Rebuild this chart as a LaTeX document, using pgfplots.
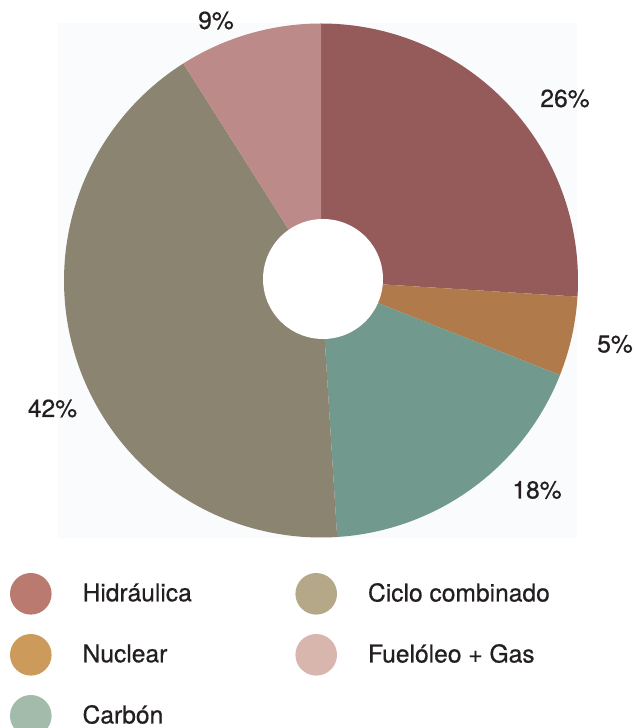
\documentclass[border=0pt]{standalone}
\usepackage{pgfplots}
\pgfplotsset{compat=1.18}
\usepackage{fontspec}
\setmainfont{TeX Gyre Heros}[FakeBold=0.6]
\definecolor{hpie}{HTML}{955B5A}
\definecolor{npie}{HTML}{B07A4B}
\definecolor{cpie}{HTML}{72998D}
\definecolor{gpie}{HTML}{8B8471}
\definecolor{fpie}{HTML}{BC8A88}
\definecolor{hleg}{HTML}{BA7A6F}
\definecolor{nleg}{HTML}{CC9B5B}
\definecolor{cleg}{HTML}{A3BBAB}
\definecolor{gleg}{HTML}{B5A888}
\definecolor{fleg}{HTML}{D8B5AD}
\definecolor{bgc}{HTML}{FAFBFD}
\definecolor{txt}{HTML}{231F20}
\newcommand{\lfont}{\fontsize{12.3}{14}\selectfont}
\begin{document}
\begin{tikzpicture}
\begin{axis}[
  scale only axis, width=317pt, height=364pt,
  xmin=0, xmax=634, ymin=0, ymax=728,
  hide axis, clip=false,
  legend columns=2, legend cell align=left,
  legend image code/.code={\fill[#1] (0pt,0pt) circle (10.4pt);},
  legend style={at={(axis cs:10,155)}, anchor=north west, draw=none, fill=none,
    inner sep=0pt, outer sep=0pt, row sep=9.7pt,
    font=\lfont, text=txt,
    nodes={inner sep=0pt},
    /tikz/every odd column/.append style={column sep=15.5pt},
    /tikz/every even column/.append style={column sep=51.8pt}},
]
% faint background panel
\addplot[fill=bgc, draw=none, forget plot] coordinates {(58,190) (577,190) (577,705) (58,705)} -- cycle;
% pie slices: Hidráulica 26, Nuclear 5, Carbón 18, Ciclo combinado 42, Fuelóleo + Gas 9 (clockwise from top)
\addplot[fill=hpie, draw=none, forget plot, domain=-3.6:90, samples=80, variable=\t] ({321+257*cos(t)},{447.5+257*sin(t)}) -- (axis cs:321,447.5) -- cycle;
\addplot[fill=npie, draw=none, forget plot, domain=-21.6:-3.6, samples=30, variable=\t] ({321+257*cos(t)},{447.5+257*sin(t)}) -- (axis cs:321,447.5) -- cycle;
\addplot[fill=cpie, draw=none, forget plot, domain=-86.4:-21.6, samples=60, variable=\t] ({321+257*cos(t)},{447.5+257*sin(t)}) -- (axis cs:321,447.5) -- cycle;
\addplot[fill=gpie, draw=none, forget plot, domain=-237.6:-86.4, samples=120, variable=\t] ({321+257*cos(t)},{447.5+257*sin(t)}) -- (axis cs:321,447.5) -- cycle;
\addplot[fill=fpie, draw=none, forget plot, domain=-270:-237.6, samples=30, variable=\t] ({321+257*cos(t)},{447.5+257*sin(t)}) -- (axis cs:321,447.5) -- cycle;
% hole
\addplot[fill=white, draw=none, forget plot, domain=0:360, samples=90, variable=\t] ({323+60*cos(t)},{449+60*sin(t)}) -- cycle;
% labels
\node[font=\lfont, text=txt, inner sep=0pt] at (axis cs:565,629.5) {26\%};
\node[font=\lfont, text=txt, inner sep=0pt] at (axis cs:615,384) {5\%};
\node[font=\lfont, text=txt, inner sep=0pt] at (axis cs:537,238) {18\%};
\node[font=\lfont, text=txt, inner sep=0pt] at (axis cs:52.5,319.5) {42\%};
\node[font=\lfont, text=txt, inner sep=0pt] at (axis cs:216,707.5) {9\%};
% legend
\addlegendimage{fill=hleg, draw=none}
\addlegendentry{Hidráulica}
\addlegendimage{fill=gleg, draw=none}
\addlegendentry{Ciclo combinado}
\addlegendimage{fill=nleg, draw=none}
\addlegendentry{Nuclear}
\addlegendimage{fill=fleg, draw=none}
\addlegendentry{Fuelóleo + Gas}
\addlegendimage{fill=cleg, draw=none}
\addlegendentry{Carbón}
\end{axis}
\pgfresetboundingbox
\path (current axis.south west) rectangle (current axis.north east);
\end{tikzpicture}
\end{document}
